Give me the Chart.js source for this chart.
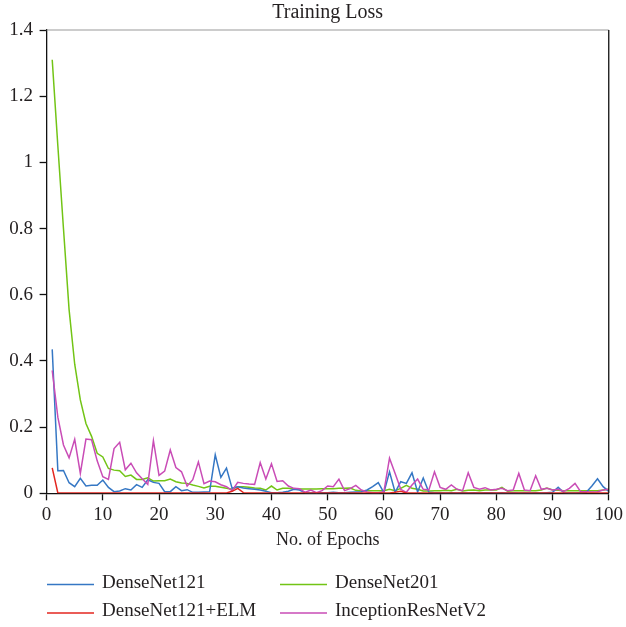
<!DOCTYPE html>
<html>
<head>
<meta charset="utf-8">
<script src="https://cdn.jsdelivr.net/npm/chart.js@4.4.1/dist/chart.umd.min.js"></script>
<style>
  html, body { margin: 0; padding: 0; background: #fff; }
  #wrap { width: 626px; height: 627px; }
</style>
</head>
<body>
<div id="wrap"><canvas id="lossChart" width="626" height="627"></canvas></div>
<script>
// Training loss per epoch
const epochs = Array.from({ length: 100 }, (_, i) => i + 1);

const densenet121 = [
  0.435, 0.068, 0.069, 0.032, 0.020, 0.045, 0.022, 0.024, 0.024, 0.040,
  0.018, 0.005, 0.007, 0.014, 0.010, 0.026, 0.018, 0.041, 0.033, 0.030,
  0.005, 0.005, 0.020, 0.008, 0.011, 0.003, 0.003, 0.004, 0.005, 0.116,
  0.048, 0.076, 0.015, 0.020, 0.016, 0.014, 0.012, 0.010, 0.006, 0.002,
  0.002, 0.003, 0.006, 0.012, 0.010, 0.002, 0.001, 0.001, 0.002, 0.002,
  0.003, 0.002, 0.002, 0.003, 0.004, 0.005, 0.010, 0.020, 0.032, 0.002,
  0.065, 0.003, 0.035, 0.030, 0.062, 0.004, 0.046, 0.003, 0.002, 0.002,
  0.001, 0.002, 0.001, 0.002, 0.001, 0.002, 0.001, 0.002, 0.002, 0.001,
  0.002, 0.001, 0.002, 0.001, 0.002, 0.001, 0.002, 0.001, 0.002, 0.003,
  0.018, 0.002, 0.001, 0.001, 0.002, 0.003, 0.022, 0.044, 0.020, 0.006
];

const densenet201 = [
  1.310, 1.050, 0.800, 0.555, 0.390, 0.282, 0.211, 0.172, 0.121, 0.110,
  0.075, 0.070, 0.068, 0.051, 0.055, 0.042, 0.042, 0.047, 0.037, 0.038,
  0.038, 0.043, 0.035, 0.031, 0.030, 0.025, 0.021, 0.016, 0.021, 0.021,
  0.018, 0.015, 0.012, 0.020, 0.020, 0.018, 0.016, 0.015, 0.010, 0.022,
  0.010, 0.015, 0.015, 0.013, 0.013, 0.013, 0.013, 0.013, 0.014, 0.014,
  0.014, 0.015, 0.015, 0.016, 0.009, 0.007, 0.008, 0.008, 0.008, 0.008,
  0.012, 0.008, 0.015, 0.024, 0.015, 0.012, 0.007, 0.007, 0.008, 0.008,
  0.009, 0.008, 0.012, 0.007, 0.009, 0.010, 0.008, 0.010, 0.010, 0.010,
  0.018, 0.006, 0.008, 0.008, 0.008, 0.008, 0.008, 0.010, 0.016, 0.010,
  0.009, 0.008, 0.008, 0.008, 0.008, 0.008, 0.008, 0.008, 0.010, 0.012
];

const densenet121Elm = [
  0.077, 0.001, 0.001, 0.001, 0.001, 0.001, 0.001, 0.001, 0.001, 0.001,
  0.001, 0.001, 0.001, 0.001, 0.001, 0.001, 0.001, 0.001, 0.001, 0.001,
  0.001, 0.001, 0.001, 0.001, 0.001, 0.001, 0.001, 0.001, 0.001, 0.001,
  0.001, 0.001, 0.006, 0.015, 0.002, 0.001, 0.001, 0.001, 0.001, 0.001,
  0.001, 0.001, 0.001, 0.001, 0.001, 0.001, 0.001, 0.001, 0.001, 0.001,
  0.001, 0.001, 0.001, 0.001, 0.001, 0.001, 0.001, 0.001, 0.001, 0.001,
  0.001, 0.003, 0.006, 0.001, 0.001, 0.001, 0.001, 0.001, 0.001, 0.001,
  0.001, 0.001, 0.001, 0.001, 0.001, 0.001, 0.001, 0.001, 0.001, 0.001,
  0.001, 0.001, 0.001, 0.001, 0.001, 0.001, 0.001, 0.001, 0.001, 0.001,
  0.001, 0.001, 0.001, 0.001, 0.001, 0.001, 0.001, 0.001, 0.001, 0.001
];

const inceptionResNetV2 = [
  0.371, 0.230, 0.146, 0.107, 0.163, 0.060, 0.164, 0.162, 0.098, 0.050,
  0.042, 0.135, 0.154, 0.071, 0.091, 0.062, 0.044, 0.027, 0.159, 0.054,
  0.067, 0.131, 0.078, 0.065, 0.022, 0.041, 0.095, 0.029, 0.037, 0.035,
  0.026, 0.020, 0.008, 0.033, 0.030, 0.028, 0.027, 0.093, 0.043, 0.089,
  0.036, 0.038, 0.022, 0.015, 0.014, 0.003, 0.010, 0.002, 0.008, 0.022,
  0.020, 0.043, 0.008, 0.014, 0.024, 0.010, 0.004, 0.002, 0.002, 0.005,
  0.106, 0.060, 0.012, 0.003, 0.025, 0.043, 0.012, 0.010, 0.065, 0.018,
  0.012, 0.025, 0.012, 0.008, 0.062, 0.018, 0.012, 0.017, 0.010, 0.012,
  0.015, 0.008, 0.010, 0.060, 0.010, 0.008, 0.053, 0.012, 0.015, 0.010,
  0.012, 0.006, 0.015, 0.030, 0.005, 0.005, 0.004, 0.005, 0.010, 0.012
];

const seriesNames = ['DenseNet121', 'DenseNet201', 'DenseNet121+ELM', 'InceptionResNetV2'];
const seriesColors = ['#3577c4', '#72c415', '#e3261f', '#c94cb6'];
const yTicks = [0, 0.2, 0.4, 0.6, 0.8, 1, 1.2, 1.4];

const FONT = 'Liberation Serif';
const TEXT = '#231f20';

function pts(vals) {
  return epochs.map((e, i) => ({ x: e, y: vals[i] }));
}

// top (grey) and right (black) frame lines of the plot box
const frame = {
  id: 'frame',
  afterDraw(chart) {
    const { ctx, chartArea: a } = chart;
    ctx.save();
    ctx.lineWidth = 1.2;
    ctx.strokeStyle = '#9a9a9a';
    ctx.beginPath();
    ctx.moveTo(a.left, a.top);
    ctx.lineTo(a.right, a.top);
    ctx.stroke();
    ctx.strokeStyle = '#111';
    ctx.lineWidth = 1.3;
    ctx.beginPath();
    ctx.moveTo(a.right, a.top);
    ctx.lineTo(a.right, a.bottom);
    ctx.stroke();
    ctx.restore();
  }
};

// 2 x 2 legend under the axis title
const gridLegend = {
  id: 'gridLegend',
  afterDraw(chart) {
    const ctx = chart.ctx;
    const colX = [47, 280];
    const rowY = [583, 611.5];
    ctx.save();
    ctx.font = '19px "' + FONT + '"';
    ctx.textBaseline = 'middle';
    ctx.textAlign = 'left';
    chart.data.datasets.forEach((ds, i) => {
      const x = colX[i % 2];
      const y = rowY[Math.floor(i / 2)];
      ctx.strokeStyle = ds.borderColor;
      ctx.lineWidth = 1.5;
      ctx.beginPath();
      ctx.moveTo(x, y + 1.5);
      ctx.lineTo(x + 47, y + 1.5);
      ctx.stroke();
      ctx.fillStyle = TEXT;
      ctx.fillText(ds.label, x + 55, y);
    });
    ctx.restore();
  }
};

const datasets = [densenet121, densenet201, densenet121Elm, inceptionResNetV2].map((vals, i) => ({
  label: seriesNames[i],
  data: pts(vals),
  borderColor: seriesColors[i],
  backgroundColor: seriesColors[i],
  borderWidth: 1.5,
  pointRadius: 0,
  tension: 0,
  fill: false,
  order: [2, 3, 0, 1][i]
}));

new Chart(document.getElementById('lossChart'), {
  type: 'line',
  data: { datasets },
  options: {
    responsive: false,
    animation: false,
    devicePixelRatio: 1,
    layout: { padding: { left: 0, right: 16.5, top: 0, bottom: 73.7 } },
    plugins: {
      legend: { display: false },
      tooltip: { enabled: false },
      title: {
        display: true,
        fullSize: false,
        text: 'Training Loss',
        color: TEXT,
        font: { family: FONT, size: 20, weight: 'normal', lineHeight: 1.2 },
        padding: { top: 1, bottom: 5 }
      }
    },
    scales: {
      x: {
        type: 'linear',
        min: 0,
        max: 100,
        afterFit(scale) { scale.height = 60; },
        border: { display: true, color: '#111', width: 1.3 },
        grid: { drawOnChartArea: false, drawTicks: true, tickLength: 7, tickColor: '#111', tickWidth: 1.3 },
        ticks: {
          stepSize: 10,
          padding: 3,
          color: TEXT,
          maxRotation: 0,
          font: { family: FONT, size: 19, lineHeight: 1.2 }
        },
        title: {
          display: true,
          text: 'No. of Epochs',
          color: TEXT,
          font: { family: FONT, size: 18, lineHeight: 1.2 },
          padding: { top: 0, bottom: 2 }
        }
      },
      y: {
        min: 0,
        max: 1.4,
        afterFit(scale) { scale.width = 46.6; },
        afterBuildTicks(scale) { scale.ticks = yTicks.map(v => ({ value: v })); },
        border: { display: true, color: '#111', width: 1.3 },
        grid: { drawOnChartArea: false, drawTicks: true, tickLength: 7, tickColor: '#111', tickWidth: 1.3 },
        ticks: {
          padding: 6.5,
          color: TEXT,
          font: { family: FONT, size: 19, lineHeight: 1.2 },
          callback: v => String(Math.round(v * 10) / 10)
        }
      }
    }
  },
  plugins: [frame, gridLegend]
});
</script>
</body>
</html>
